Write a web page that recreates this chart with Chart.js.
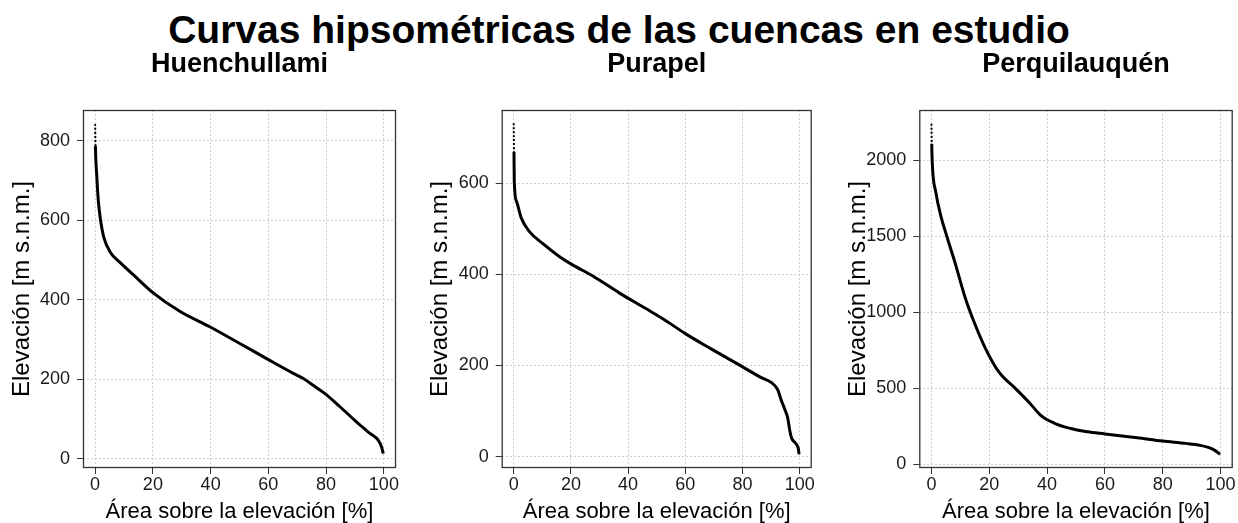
<!DOCTYPE html>
<html lang="es">
<head>
<meta charset="utf-8">
<title>Curvas hipsométricas</title>
<script src="https://cdn.jsdelivr.net/npm/chart.js@4.4.1/dist/chart.umd.min.js"></script>
<style>
  html, body { margin: 0; padding: 0; background: #fff; }
  body { width: 1238px; height: 523px; position: relative; overflow: hidden; font-family: "Liberation Sans", Arial, sans-serif; }
  #titulo { position: absolute; left: 0; width: 1238px; top: 10px; text-align: center; font-weight: bold; font-size: 39px; line-height: 39px; color: #000; }
  canvas { position: absolute; top: 40px; }
</style>
</head>
<body>
<div id="titulo">Curvas hipsométricas de las cuencas en estudio</div>
<canvas id="c1" width="415" height="483" style="left:0px"></canvas>
<canvas id="c2" width="415" height="483" style="left:415px"></canvas>
<canvas id="c3" width="408" height="483" style="left:830px"></canvas>
<script>
// % of basin area lying above each elevation (m a.s.l.)
const huenArea = [0, 0.1, 0.6, 1.1, 1.9, 3.0, 5.3, 8.6, 13.2, 20, 29.3, 39.7, 50.1, 59.4, 68.6, 72.1, 75.5, 79.6, 84.8, 90.5, 95.2, 98, 99.2, 99.8];
const huenElev = [842, 787, 708, 649, 599, 557, 519, 494, 463, 418, 371, 332, 290, 252, 215, 202, 185, 164, 131, 93, 64, 47, 30, 13];

const puraArea = [0, 0.1, 0.2, 1.0, 2.7, 5.5, 10.1, 15.8, 20.3, 27.8, 37, 46.2, 53.1, 60, 69.2, 78.4, 86.4, 90, 92.3, 93.5, 94.7, 95.8, 96.6, 97.2, 98.5, 99.5, 99.8];
const puraElev = [732, 669, 603, 560, 523, 494, 468, 440, 422, 396, 359, 325, 299, 270, 236, 203, 174, 163, 147, 125, 105, 85, 55, 40, 30, 18, 5];

const perqArea = [0, 0.1, 0.3, 1.5, 3.2, 5.5, 8.3, 11.7, 15.2, 18.7, 23.3, 29, 34.1, 37.8, 42.4, 48.2, 53.9, 60, 71.2, 80, 88, 93, 96, 98, 99.8];
const perqElev = [2241, 2110, 1978, 1792, 1639, 1490, 1318, 1095, 915, 762, 608, 500, 401, 323, 272, 236, 214, 200, 175, 153, 138, 125, 110, 92, 66];

// axis ticks
const areaTicks = [0, 20, 40, 60, 80, 100];
const huenTicks = [0, 200, 400, 600, 800];
const puraTicks = [0, 200, 400, 600];
const perqTicks = [0, 500, 1000, 1500, 2000];

const font = '"Liberation Sans", Arial, sans-serif';

// ggplot-like closed panel border
const panelBox = {
  id: 'panelBox',
  afterDraw(chart) {
    const a = chart.chartArea, ctx = chart.ctx;
    ctx.save();
    ctx.strokeStyle = '#333';
    ctx.lineWidth = 1.3;
    ctx.strokeRect(a.left + 0.5, a.top + 0.5, a.right - a.left - 1, a.bottom - a.top - 1);
    ctx.restore();
  }
};

const fixedTicks = vals => s => { s.ticks = vals.map(v => ({ value: v })); };

function panel(id, name, area, elev, yTicks, yMin, yMax, axisW, ytPad, padRight) {
  new Chart(document.getElementById(id), {
    type: 'line',
    data: {
      datasets: [{
        data: area.map((x, i) => ({ x: x, y: elev[i] })),
        borderColor: '#000',
        borderWidth: 3,
        pointRadius: 0,
        cubicInterpolationMode: 'monotone',
        fill: false,
        // the few highest cells are sparse, so the top stretch reads as dots
        segment: {
          borderDash: c => c.p0DataIndex === 0 ? [2, 2] : undefined,
          borderWidth: c => c.p0DataIndex === 0 ? 2 : undefined
        }
      }]
    },
    options: {
      responsive: false,
      animation: false,
      layout: { padding: { left: 0, right: padRight, top: 0, bottom: 0 } },
      plugins: {
        legend: { display: false },
        tooltip: { enabled: false },
        title: {
          display: true,
          text: name,
          fullSize: false,
          color: '#000',
          font: { family: font, size: 27, weight: 'bold', lineHeight: 1.2 },
          padding: { top: 8, bottom: 29.6 }
        }
      },
      scales: {
        x: {
          type: 'linear',
          min: -4.2,
          max: 104.2,
          afterBuildTicks: fixedTicks(areaTicks),
          afterFit: s => { s.height = 55; },
          ticks: { padding: 0, maxRotation: 0, color: '#1a1a1a', font: { family: font, size: 18 }, callback: v => String(v) },
          grid: { color: '#d0d0d0', tickColor: '#333', tickLength: 6 },
          border: { display: false, dash: [2, 2] },
          title: { display: true, text: 'Área sobre la elevación [%]', color: '#000', font: { family: font, size: 22, lineHeight: 1 }, padding: { top: 0, bottom: 0 } }
        },
        y: {
          min: yMin,
          max: yMax,
          afterBuildTicks: fixedTicks(yTicks),
          afterFit: s => { s.width = axisW; },
          ticks: { padding: 7, color: '#1a1a1a', font: { family: font, size: 18 }, callback: v => String(v) },
          grid: { color: '#d0d0d0', tickColor: '#333', tickLength: 6 },
          border: { display: false, dash: [2, 2] },
          title: { display: true, text: 'Elevación [m s.n.m.]', color: '#000', font: { family: font, size: 24, lineHeight: 1 }, padding: { top: ytPad, bottom: 0 } }
        }
      }
    },
    plugins: [panelBox]
  });
}

panel('c1', 'Huenchullami', huenArea, huenElev, huenTicks, -23, 877, 83, 10.5, 19);
panel('c2', 'Purapel', puraArea, puraElev, puraTicks, -25, 761, 86.7, 13, 18.3);
panel('c3', 'Perquilauquén', perqArea, perqElev, perqTicks, -24, 2332, 89.3, 16.3, 5.3);
</script>
</body>
</html>
